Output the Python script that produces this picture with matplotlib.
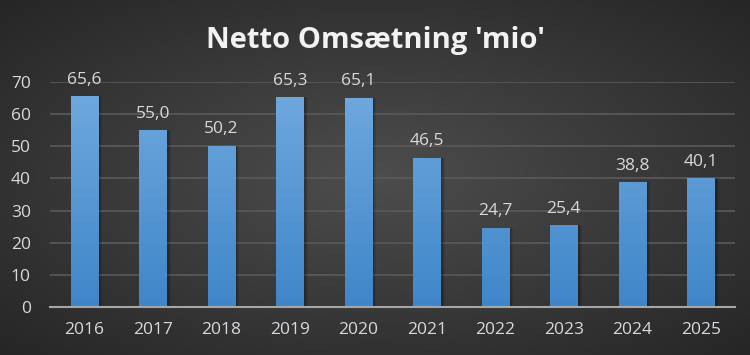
import numpy as np
import matplotlib.pyplot as plt
from matplotlib.colors import LinearSegmentedColormap

years = ['2016', '2017', '2018', '2019', '2020', '2021', '2022', '2023', '2024', '2025']
omsaetning = [65.6, 55.0, 50.2, 65.3, 65.1, 46.5, 24.7, 25.4, 38.8, 40.1]
y_ticks = [0, 10, 20, 30, 40, 50, 60, 70]

fig = plt.figure(figsize=(7.5, 3.55), dpi=100)

# radial gradient background
bg = fig.add_axes([0, 0, 1, 1], zorder=-10)
gx, gy = np.meshgrid(np.linspace(-1, 1, 400), np.linspace(-1, 1, 200))
r = np.sqrt(gx ** 2 + gy ** 2) / np.sqrt(2)
bg_cmap = LinearSegmentedColormap.from_list('bg', ['#4d4d4d', '#262626'])
bg.imshow(r, cmap=bg_cmap, aspect='auto', extent=[0, 1, 0, 1], vmin=0, vmax=1)
bg.axis('off')

ax = fig.add_axes([0.067, 0.135, 0.913, 0.634])
ax.set_facecolor('none')
x = np.arange(len(years))

# soft shadow behind bars
for off, w, a in [(0.03, 0.46, 0.08), (0.025, 0.44, 0.1), (0.02, 0.42, 0.12)]:
    ax.bar(x + off, omsaetning, width=w, color='black', alpha=a, zorder=2)
bars = ax.bar(x, omsaetning, width=0.4, color='#5b9bd5', zorder=3)

bar_cmap = LinearSegmentedColormap.from_list('bar', ['#3f86c9', '#71aadf'])
grad = np.linspace(0, 1, 256).reshape(-1, 1)
for b in bars:
    im = ax.imshow(grad, cmap=bar_cmap, aspect='auto', origin='lower',
                   extent=[b.get_x(), b.get_x() + b.get_width(), 0, 70], zorder=4)
    im.set_clip_path(b)

for xi, v in zip(x, omsaetning):
    ax.text(xi, v + 2.6, f'{v:.1f}'.replace('.', ','), ha='center', va='bottom',
            color='#d9d9d9', fontsize=12.5, family='Open Sans', zorder=5)

ax.set_xlim(-0.5, len(years) - 0.5)
ax.set_ylim(0, 70)
ax.set_yticks(y_ticks)
ax.set_xticks(x)
ax.set_xticklabels(years)
ax.yaxis.grid(True, color='#5a5a5a', linewidth=1.2, zorder=0)
ax.set_axisbelow(True)
for s in ['top', 'right', 'left']:
    ax.spines[s].set_visible(False)
ax.spines['bottom'].set_color('#a6a6a6')
ax.spines['bottom'].set_linewidth(1.5)
ax.spines['bottom'].set_zorder(6)
ax.tick_params(axis='both', length=0, colors='#d9d9d9', labelsize=12.5)
ax.tick_params(axis='x', pad=11)
ax.tick_params(axis='y', pad=14)
for lab in ax.get_xticklabels() + ax.get_yticklabels():
    lab.set_family('Open Sans')

fig.text(0.5, 0.885, "Netto Omsætning 'mio'", ha='center', va='center',
         color='#f2f2f2', fontsize=21, fontweight='bold', family='Open Sans')

fig.savefig('out.png', dpi=100)
